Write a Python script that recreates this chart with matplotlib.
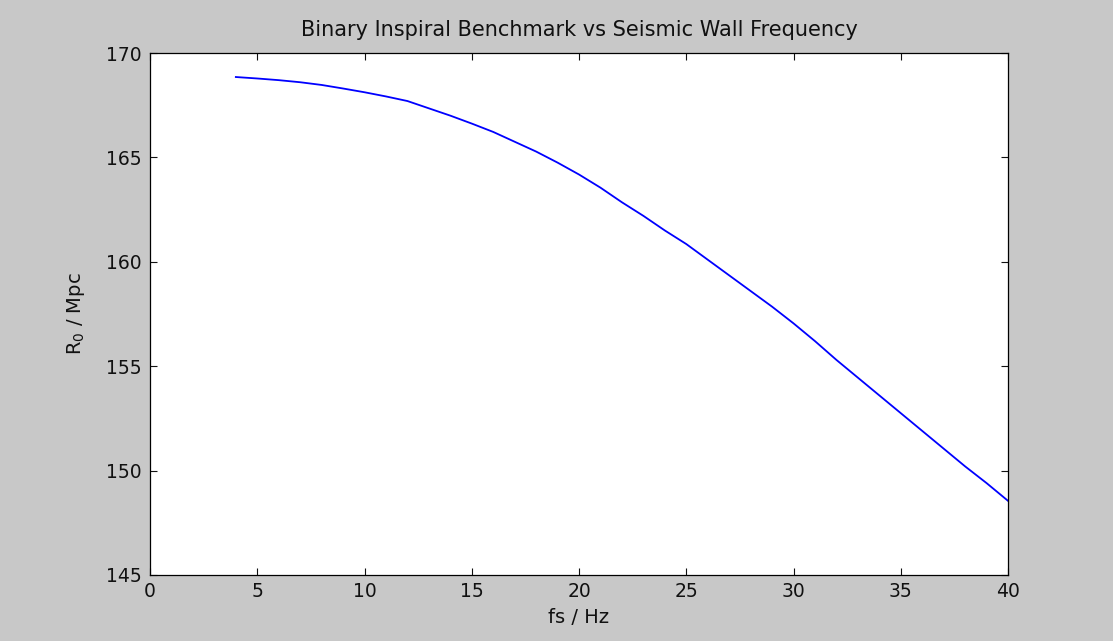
import matplotlib
matplotlib.use('Agg')
import matplotlib.pyplot as plt

# seismic wall frequency (Hz) and inspiral range R0 (Mpc)
fs = [4, 5, 6, 7, 8, 9, 10, 11, 12, 13, 14, 15, 16, 17, 18, 19, 20,
      21, 22, 23, 24, 25, 26, 27, 28, 29, 30, 31, 32, 33, 34, 35, 36,
      37, 38, 39, 40]
r0 = [168.85, 168.78, 168.70, 168.60, 168.47, 168.30, 168.12, 167.92,
      167.70, 167.35, 167.00, 166.62, 166.22, 165.75, 165.28, 164.75,
      164.18, 163.55, 162.85, 162.20, 161.50, 160.85, 160.10, 159.35,
      158.60, 157.85, 157.05, 156.20, 155.30, 154.45, 153.60, 152.75,
      151.90, 151.05, 150.20, 149.40, 148.55]

xticks = [0, 5, 10, 15, 20, 25, 30, 35, 40]
yticks = [145, 150, 155, 160, 165, 170]

plt.rcParams['font.family'] = ['DejaVu Sans']
plt.rcParams['mathtext.default'] = 'regular'

fig = plt.figure(figsize=(11.13, 6.41), dpi=100, facecolor='#c8c8c8')
ax = fig.add_axes([0.1348, 0.1030, 0.7709, 0.8143])
ax.set_facecolor('white')

ax.plot(fs, r0, color='#0000ff', lw=1.3)

ax.set_xlim(0, 40)
ax.set_ylim(145, 170)
ax.set_xticks(xticks)
ax.set_yticks(yticks)
ax.tick_params(direction='in', top=True, right=True, length=5, width=0.8,
               labelsize=13.5, colors='#111111')
ax.tick_params(axis='y', pad=6)
ax.tick_params(axis='x', pad=5)
for s in ax.spines.values():
    s.set_linewidth(0.9)

ax.set_title('Binary Inspiral Benchmark vs Seismic Wall Frequency',
             fontsize=15, pad=12, color='#111111')
ax.set_xlabel('fs / Hz', fontsize=14, labelpad=5, color='#111111')
ax.set_ylabel('R$_0$ / Mpc', fontsize=14, labelpad=14, color='#111111')

fig.savefig('out.png', dpi=100, facecolor=fig.get_facecolor())
